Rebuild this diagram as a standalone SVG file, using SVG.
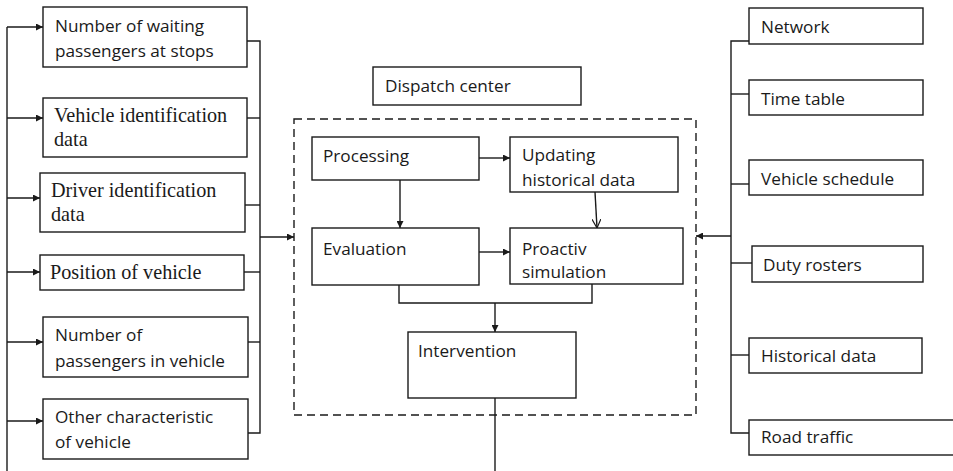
<svg xmlns="http://www.w3.org/2000/svg" width="953" height="471" viewBox="0 0 953 471">
  <defs>
    <marker id="arr" viewBox="0 0 10 10" refX="10" refY="5" markerWidth="7" markerHeight="7" markerUnits="userSpaceOnUse" orient="auto">
      <path d="M0,0 L10,5 L0,10 z" fill="#1a1a1a"/>
    </marker>
    <marker id="open" viewBox="0 0 10 10" refX="10" refY="5" markerWidth="9" markerHeight="9" markerUnits="userSpaceOnUse" orient="auto">
      <path d="M0,0 L10,5 L0,10" fill="none" stroke="#1a1a1a" stroke-width="1.3"/>
    </marker>
  </defs>
  <style>
    rect { fill: #fff; stroke: #1a1a1a; stroke-width: 1.4; }
    .dash { fill: none; stroke-dasharray: 8 5; }
    .ln { fill: none; stroke: #1a1a1a; stroke-width: 1.4; }
    text { font-family: "Open Sans", "Noto Sans", sans-serif; font-size: 17.2px; fill: #1a1a1a; }
    text.serif { font-family: "Liberation Serif", "DejaVu Serif", serif; font-size: 20.2px; }
  </style>
  <rect width="953" height="471" style="fill:#fff;stroke:none"/>

  <!-- connectors -->
  <g id="connectors">
    <!-- left feed bus -->
    <path class="ln" d="M7,27 V471"/>
    <path class="ln" d="M7,27 H43" marker-end="url(#arr)"/>
    <path class="ln" d="M7,118 H43" marker-end="url(#arr)"/>
    <path class="ln" d="M7,198 H40" marker-end="url(#arr)"/>
    <path class="ln" d="M7,272 H40" marker-end="url(#arr)"/>
    <path class="ln" d="M7,342 H43" marker-end="url(#arr)"/>
    <path class="ln" d="M7,421 H43" marker-end="url(#arr)"/>
    <!-- left collect bus -->
    <path class="ln" d="M247,41 H260 V433 H248"/>
    <path class="ln" d="M247,118 H260"/>
    <path class="ln" d="M245,205 H260"/>
    <path class="ln" d="M244,272 H260"/>
    <path class="ln" d="M248,342 H260"/>
    <path class="ln" d="M260,237 H294" marker-end="url(#arr)"/>
    <!-- right collect bus -->
    <path class="ln" d="M749,41 H731 V433 H749"/>
    <path class="ln" d="M749,94 H731"/>
    <path class="ln" d="M749,184 H731"/>
    <path class="ln" d="M752,263 H731"/>
    <path class="ln" d="M749,355 H731"/>
    <path class="ln" d="M731,236 H696" marker-end="url(#arr)"/>
    <!-- inside dispatch center -->
    <path class="ln" d="M479,158 H510" marker-end="url(#arr)"/>
    <path class="ln" d="M400,180 V228" marker-end="url(#arr)"/>
    <path class="ln" d="M595,192 L597,228" marker-end="url(#open)"/>
    <path class="ln" d="M479,252 H510" marker-end="url(#arr)"/>
    <path class="ln" d="M399,285 V303 H592 V284"/>
    <path class="ln" d="M495,303 V332" marker-end="url(#arr)"/>
    <path class="ln" d="M495,398 V471"/>
  </g>

  <!-- dispatch center frame -->
  <g id="frame">
    <rect class="dash" x="294" y="119" width="402" height="296"/>
  </g>
  <g id="dispatch">
    <rect x="373" y="67" width="208" height="38"/>
    <text x="385" y="92">Dispatch center</text>
  </g>

  <!-- inner steps -->
  <g id="processing">
    <rect x="312" y="137" width="167" height="43"/>
    <text x="323" y="162">Processing</text>
  </g>
  <g id="updating">
    <rect x="510" y="137" width="168" height="55"/>
    <text x="522" y="161">Updating</text>
    <text x="522" y="186">historical data</text>
  </g>
  <g id="evaluation">
    <rect x="312" y="228" width="167" height="57"/>
    <text x="323" y="255">Evaluation</text>
  </g>
  <g id="proactiv">
    <rect x="510" y="228" width="173" height="56"/>
    <text x="522" y="255">Proactiv</text>
    <text x="522" y="278">simulation</text>
  </g>
  <g id="intervention">
    <rect x="408" y="332" width="168" height="66"/>
    <text x="418" y="357">Intervention</text>
  </g>

  <!-- left inputs -->
  <g id="waiting">
    <rect x="43" y="7" width="204" height="60"/>
    <text x="55" y="32">Number of waiting</text>
    <text x="55" y="57">passengers at stops</text>
  </g>
  <g id="vehicle-id">
    <rect x="43" y="98" width="204" height="59"/>
    <text class="serif" x="54" y="122">Vehicle identification</text>
    <text class="serif" x="54" y="146">data</text>
  </g>
  <g id="driver-id">
    <rect x="40" y="173" width="205" height="59"/>
    <text class="serif" x="51" y="197">Driver identification</text>
    <text class="serif" x="51" y="221">data</text>
  </g>
  <g id="position">
    <rect x="40" y="255" width="204" height="35"/>
    <text class="serif" x="50" y="279">Position of vehicle</text>
  </g>
  <g id="passengers">
    <rect x="43" y="317" width="205" height="60"/>
    <text x="55" y="341">Number of</text>
    <text x="55" y="367">passengers in vehicle</text>
  </g>
  <g id="other">
    <rect x="43" y="399" width="205" height="60"/>
    <text x="55" y="423">Other characteristic</text>
    <text x="55" y="448">of vehicle</text>
  </g>

  <!-- right inputs -->
  <g id="network">
    <rect x="749" y="8" width="174" height="36"/>
    <text x="761" y="33">Network</text>
  </g>
  <g id="timetable">
    <rect x="749" y="80" width="174" height="35"/>
    <text x="761" y="105">Time table</text>
  </g>
  <g id="schedule">
    <rect x="749" y="160" width="174" height="35"/>
    <text x="761" y="185">Vehicle schedule</text>
  </g>
  <g id="rosters">
    <rect x="752" y="246" width="171" height="36"/>
    <text x="763" y="271">Duty rosters</text>
  </g>
  <g id="historical">
    <rect x="749" y="338" width="173" height="35"/>
    <text x="761" y="362">Historical data</text>
  </g>
  <g id="traffic">
    <rect x="749" y="420" width="210" height="35"/>
    <text x="761" y="443">Road traffic</text>
  </g>
</svg>
